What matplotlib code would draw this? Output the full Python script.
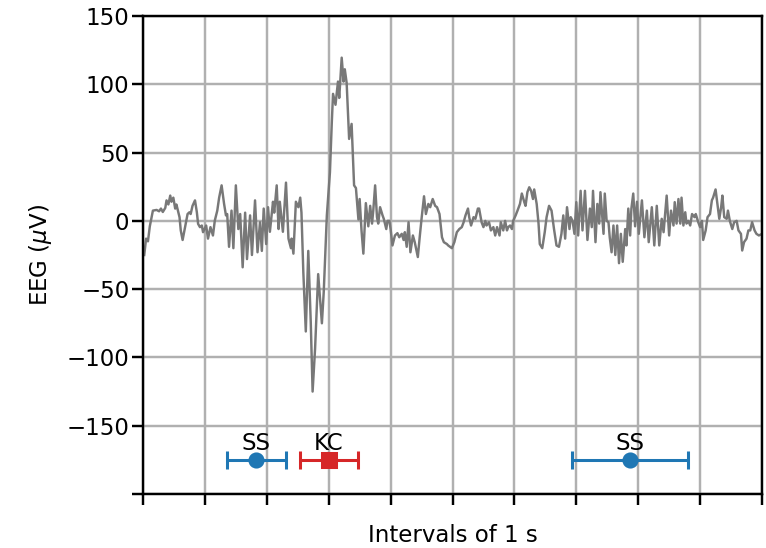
import matplotlib
matplotlib.use("Agg")
import matplotlib.pyplot as plt
import numpy as np

# EEG trace (time in s, amplitude in microvolts)
time_s = [0.02, 0.05, 0.08, 0.11, 0.16, 0.22, 0.26, 0.29, 0.32, 0.36, 0.38, 0.41, 0.44, 0.46, 0.49,
          0.52, 0.54, 0.59, 0.61, 0.64, 0.68, 0.72, 0.75, 0.77, 0.80, 0.84, 0.87, 0.89, 0.92, 0.95,
          0.97, 1.02, 1.05, 1.09, 1.13, 1.16, 1.20, 1.23, 1.27, 1.31, 1.34, 1.36, 1.39, 1.43, 1.46,
          1.50, 1.54, 1.57, 1.61, 1.65, 1.68, 1.73, 1.76, 1.81, 1.85, 1.89, 1.92, 1.95, 1.99, 2.02,
          2.05, 2.10, 2.12, 2.16, 2.19, 2.21, 2.26, 2.31, 2.35, 2.39, 2.40, 2.43, 2.47, 2.51, 2.54,
          2.56, 2.59, 2.63, 2.67, 2.71, 2.74, 2.78, 2.83, 2.89, 2.92, 2.97, 3.02, 3.05, 3.07, 3.11,
          3.15, 3.17, 3.21, 3.24, 3.26, 3.29, 3.33, 3.37, 3.41, 3.44, 3.48, 3.50, 3.53, 3.56, 3.60,
          3.64, 3.67, 3.70, 3.72, 3.75, 3.78, 3.80, 3.83, 3.87, 3.89, 3.93, 3.95, 3.98, 4.00, 4.03,
          4.07, 4.11, 4.14, 4.18, 4.21, 4.23, 4.26, 4.29, 4.32, 4.36, 4.39, 4.44, 4.47, 4.50, 4.54,
          4.57, 4.61, 4.64, 4.68, 4.72, 4.75, 4.79, 4.83, 4.86, 4.91, 4.93, 4.99, 5.03, 5.07, 5.11,
          5.15, 5.18, 5.21, 5.25, 5.27, 5.30, 5.34, 5.37, 5.41, 5.43, 5.47, 5.50, 5.53, 5.55, 5.59,
          5.62, 5.66, 5.69, 5.72, 5.76, 5.78, 5.82, 5.85, 5.88, 5.90, 5.93, 5.96, 5.98, 6.02, 6.05,
          6.09, 6.12, 6.16, 6.18, 6.21, 6.24, 6.27, 6.30, 6.32, 6.36, 6.39, 6.41, 6.45, 6.49, 6.52,
          6.56, 6.60, 6.64, 6.68, 6.72, 6.76, 6.79, 6.82, 6.85, 6.89, 6.91, 6.94, 6.97, 7.00, 7.03,
          7.07, 7.10, 7.14, 7.18, 7.22, 7.25, 7.27, 7.31, 7.34, 7.37, 7.39, 7.44, 7.46, 7.49, 7.52,
          7.54, 7.57, 7.60, 7.63, 7.66, 7.69, 7.72, 7.75, 7.79, 7.81, 7.84, 7.87, 7.89, 7.92, 7.95,
          7.98, 8.01, 8.06, 8.10, 8.14, 8.17, 8.22, 8.26, 8.30, 8.34, 8.38, 8.41, 8.46, 8.50, 8.53,
          8.57, 8.59, 8.62, 8.65, 8.68, 8.70, 8.73, 8.76, 8.78, 8.81, 8.84, 8.87, 8.91, 8.93, 8.97,
          9.00, 9.03, 9.05, 9.09, 9.12, 9.16, 9.19, 9.21, 9.25, 9.28, 9.31, 9.34, 9.36, 9.39, 9.43,
          9.45, 9.48, 9.52, 9.55, 9.59, 9.62, 9.66, 9.68, 9.71, 9.75, 9.78, 9.81, 9.84, 9.88, 9.91,
          9.95, 9.98]
eeg_uv = [-25, -13, -15, -4, 7.5, 8, 7, 9, 6.5, 9.5, 15, 12, 18.5, 14, 17,
          9, 12, 2.7, -7, -14, -4.4, 5, 6.3, 5, 11, 15, 6.3, -2.2, -4.6, -3.4,
          -8.3, -3.4, -13, -4.6, -10.7, 0.2, 7.5, 17, 26, 12.4, 4, 5, -19, 7.5, -20,
          26, -6, 5, -34, 6, -28, 4, -25, 15, -23, -1, -22, 9, -17, 10,
          -8, 14, 6, 26, -6, 14, -8, 28, -13, -20, -13, -24, 14, 10, 17,
          6, -37.5, -81, -22, -74, -125, -93.5, -39, -75, -52, 4, 35.5, 72, 93, 85,
          102, 90, 119.5, 102, 111, 101, 60, 71, 26, 24, 1, 16, -7, -24, 13,
          -4, 11, -2, 7.5, 26, 2.7, -2, 10, 4, 1.5, -6, 0, 0, -6, -18,
          -10.7, -9, -12, -9.5, -14, -8.3, -19, -1, -23, -10.7, -15.6, -26.5, -12, 1.5, 18,
          5, 12.4, 10, 16, 11, 10, 5, -12, -15.6, -17, -18, -20, -15.6, -8.3, -6,
          -4.6, -1, 4, 9, 2.7, -3.4, 2.7, 1.5, 9, 9, -1, -4.6, 0, -3.4, -1,
          -7, -4.6, -10.7, -4.6, -10.7, -1, -7, 0, -7, -4.6, -3.4, -6, 0, 4, 7.5,
          12.4, 20, 13.7, 11, 21, 24.6, 22, 16, 23, 12.4, -2, -17, -20, -8.3, 2.7,
          11, 7.5, -6, -18, -19, -9.5, 4, -13, 10, -6, 2.7, 0, -9.5, 13.7, -10.7,
          22, -7, 22, -14, 9, -4.6, 22, -15.6, 12.4, -2, 21, -9.5, 20, 0, -1,
          -12, -23, -3.4, -25, -3.4, -31, -9.5, -30, -6, -18, 9, -10.7, 9, 20, -4,
          14, -9.5, 15, -12, 7.5, -15.6, 10, -18, 11, -18, 1.5, -8.3, 18.5, -10.7, 7.5,
          -3.4, 13.7, -2, 16, -2, 17, -3.4, 6.3, -2, 0, -3.4, 5, 2.7, 5, -1,
          -4.6, 0, -14, -7, 2.7, 5, 15, 17, 23, 12.4, 1.5, 10, 18.5, 2.7, 1.5,
          7.5, 0, -6, -1, 0, -7, -9.5, -21.7, -15.6, -13, -7, -7, -1, -7, -9.5,
          -10.7, -10]

# Event annotations: centre (s), half-width (s)
ss_centers = [1.83, 7.87]
ss_halfwidths = [0.48, 0.935]
kc_centers = [3.0]
kc_halfwidths = [0.47]
event_level = -175
label_level = -167.5

x_ticks = list(range(0, 11))
y_ticks = [-200, -150, -100, -50, 0, 50, 100, 150]
y_tick_labels = ['', '\u2212150', '\u2212100', '\u221250', '0', '50', '100', '150']

DPI = 219
plt.rcParams['font.size'] = 7.5
fig = plt.figure(figsize=(766 / DPI, 548 / DPI), dpi=DPI)
ax = fig.add_axes([143 / 766, 1 - 494 / 548, (762 - 143) / 766, (494 - 16) / 548])

ax.plot(time_s, eeg_uv, color='#787878', lw=0.8)

ax.errorbar(ss_centers, [event_level] * len(ss_centers), xerr=ss_halfwidths,
            fmt='o', color='tab:blue', ms=4.3, lw=1.0, capsize=3, capthick=1.0)
ax.errorbar(kc_centers, [event_level] * len(kc_centers), xerr=kc_halfwidths,
            fmt='s', color='tab:red', ms=4.3, lw=1.0, capsize=3, capthick=1.0)
for c in ss_centers:
    ax.text(c, label_level, 'SS', ha='center', va='baseline')
for c in kc_centers:
    ax.text(c, label_level, 'KC', ha='center', va='baseline')

ax.set_xlim(0, 10)
ax.set_ylim(-200, 150)
ax.set_xticks(x_ticks)
ax.set_xticklabels([])
ax.set_yticks(y_ticks)
ax.set_yticklabels(y_tick_labels)
ax.tick_params(axis='y', pad=1.0)
ax.grid(True, color='#b0b0b0', lw=0.8)
ax.set_xlabel('Intervals of 1 s', labelpad=3.0)
ax.set_ylabel(r'EEG ($\mu$V)', labelpad=4.0)

fig.savefig('out.png', dpi=DPI)
